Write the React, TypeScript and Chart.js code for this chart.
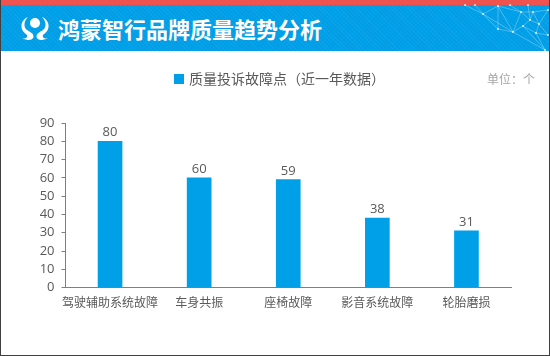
import React, { useEffect, useRef } from "react";
import { Chart, registerables } from "chart.js";

Chart.register(...registerables);

const categories = ["驾驶辅助系统故障", "车身共振", "座椅故障", "影音系统故障", "轮胎磨损"];
const values = [80, 60, 59, 38, 31];
const seriesName = "质量投诉故障点（近一年数据）";
const titleText = "鸿蒙智行品牌质量趋势分析";
const unitText = "单位：个";
const FONT = '"Open Sans", "Noto Sans CJK SC", sans-serif';
const BLUE = "#00A0E9";
const TEXT = "#595959";

const netPoints: [number, number][] = [
  [465, 5], [483, 14], [498, 6], [521, 12], [533, 12], [530, 20], [539, 24], [513, 32],
  [498, 29], [536, 33], [548, 35], [545, 50], [548, 10], [510, 5], [528, 5], [475, 5], [523, 26],
];
const netLinks: [number, number][] = [
  [0, 1], [1, 2], [1, 7], [2, 8], [2, 7], [2, 3], [3, 4], [3, 5], [3, 7], [4, 5], [4, 6], [5, 6], [5, 16],
  [6, 9], [6, 10], [7, 8], [7, 16], [7, 11], [9, 10], [9, 11], [16, 9], [4, 12], [6, 12], [13, 3], [14, 5], [15, 1], [8, 1], [16, 11],
];

const valueLabels = {
  id: "valueLabels",
  afterDatasetsDraw(chart: any) {
    const { ctx } = chart;
    const meta = chart.getDatasetMeta(0);
    ctx.save();
    ctx.font = `13px ${FONT}`;
    ctx.fillStyle = TEXT;
    ctx.textAlign = "center";
    ctx.textBaseline = "bottom";
    meta.data.forEach((el: any, i: number) => {
      ctx.fillText(String(values[i]), el.x, el.y - 2);
    });
    ctx.restore();
  },
};

const legendOffset = {
  id: "legendOffset",
  afterLayout(chart: any) {
    const lg = chart.legend;
    lg.left += 18;
    lg.right += 18;
    lg.top -= 27;
    lg.bottom -= 27;
  },
};

export default function App() {
  const ref = useRef<HTMLCanvasElement>(null);
  useEffect(() => {
    document.body.style.margin = "0";
    const chart = new Chart(ref.current!, {
      type: "bar",
      data: {
        labels: categories,
        datasets: [{ label: seriesName, data: values, backgroundColor: BLUE, barThickness: 24 }],
      },
      options: {
        animation: false,
        responsive: false,
        layout: { padding: { top: 99, left: 14, right: 39, bottom: 44 } },
        plugins: {
          tooltip: { enabled: false },
          legend: {
            position: "top",
            labels: {
              boxWidth: 6,
              boxHeight: 6,
              color: TEXT,
              font: { size: 14, family: '"Noto Sans CJK SC", sans-serif' },
              padding: 0,
              generateLabels: () => [
                { text: seriesName, fontColor: TEXT, fillStyle: BLUE, strokeStyle: BLUE, lineWidth: 4, datasetIndex: 0, hidden: false },
              ],
            },
          },
        },
        scales: {
          x: {
            offset: true,
            border: { color: "#7F7F7F" },
            grid: { display: false },
            ticks: { color: TEXT, font: { size: 12, family: FONT }, maxRotation: 0, autoSkip: false, padding: 1 },
          },
          y: {
            min: 0,
            max: 90,
            border: { color: "#7F7F7F" },
            grid: { drawOnChartArea: false, drawTicks: true, tickLength: 4, color: "#7F7F7F" },
            ticks: { stepSize: 10, autoSkip: false, color: TEXT, font: { size: 13, family: FONT }, padding: 7 },
            afterFit(scale: any) { scale.width = 51.5; },
          },
        },
      },
      plugins: [valueLabels, legendOffset],
    } as any);
    return () => chart.destroy();
  }, []);

  const logoArm = "M28 17 C24 21 23 27 27 30 C30 32 33 33 33.5 36 C33.5 39 31 40 28 40 L22 38.5 C26 39 28 37 27 35 C25 33 21 31 21.5 25 C22 21 25 18 28 17 Z";

  return (
    <div style={{ position: "relative", width: 550, height: 356, overflow: "hidden", background: "#fff" }}>
      <canvas ref={ref} width={550} height={356} style={{ position: "absolute", left: 0, top: 0, width: 550, height: 356 }} />
      <div style={{ position: "absolute", left: 0, top: 0, width: 550, height: 5, background: "#EF5350" }} />
      <div style={{
        position: "absolute", left: 0, top: 5, width: 550, height: 46, background: BLUE,
        backgroundImage: "repeating-linear-gradient(45deg, rgba(255,255,255,0.04) 0 1px, transparent 1px 3px), repeating-linear-gradient(-45deg, rgba(0,60,120,0.04) 0 1px, transparent 1px 3px)",
      }} />
      <svg width={550} height={51} style={{ position: "absolute", left: 0, top: 0 }}>
        <g stroke="#fff" strokeOpacity={0.4} strokeWidth={0.7}>
          {netLinks.map(([a, b], i) => (
            <line key={i} x1={netPoints[a][0]} y1={netPoints[a][1]} x2={netPoints[b][0]} y2={netPoints[b][1]} />
          ))}
        </g>
        <g fill="#fff" fillOpacity={0.8}>
          {netPoints.map(([x, y], i) => <circle key={i} cx={x} cy={y} r={1} />)}
        </g>
        <g fill="#fff">
          <circle cx={35} cy={23} r={5} />
          <path d={logoArm} />
          <path d={logoArm} transform="translate(70,0) scale(-1,1)" />
        </g>
      </svg>
      <div style={{
        position: "absolute", left: 58, top: 13, color: "#fff", fontFamily: '"Noto Sans CJK SC", sans-serif',
        fontWeight: 700, fontSize: 22, lineHeight: "30px", whiteSpace: "nowrap",
      }}>{titleText}</div>
      <div style={{
        position: "absolute", left: 487, top: 70, color: "#A6A6A6", fontFamily: '"Noto Sans CJK SC", sans-serif',
        fontSize: 12, lineHeight: "18px", whiteSpace: "nowrap",
      }}>{unitText}</div>
      <div style={{ position: "absolute", left: 0, top: 0, width: 550, height: 356, boxSizing: "border-box", borderLeft: "1px solid #404040", borderRight: "1px solid #404040", borderBottom: "1px solid #404040" }} />
    </div>
  );
}
